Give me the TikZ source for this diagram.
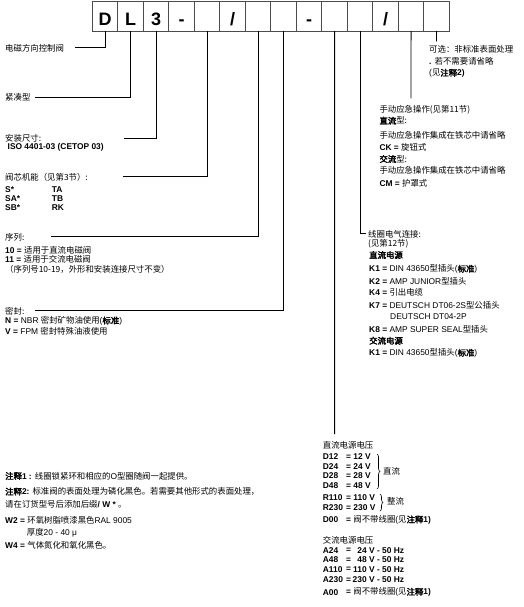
\documentclass[tikz,border=0pt]{standalone}
\usepackage{fontspec}
\setmainfont{Liberation Sans}
\newfontfamily\zhfont[AutoFakeBold=2.5]{Noto Sans CJK SC}
\usetikzlibrary{decorations.pathreplacing}
\newcommand{\zh}[1]{{\zhfont #1}}
\newcommand{\zb}[1]{{\zhfont\bfseries #1}}
\newcommand{\fs}{\fontsize{8.4}{10}\selectfont}
\tikzset{
  cell/.style={draw=black!70, line width=0.9pt, minimum width=25.5pt, minimum height=29.5pt, inner sep=0pt, outer sep=0pt},
  glyph/.style={anchor=base, inner sep=0pt, font=\fontsize{18}{18}\selectfont\bfseries},
  lbl/.style={anchor=west, inner sep=0pt, font=\fs},
  lead/.style={line width=0.9pt},
  brc/.style={decorate, decoration={brace, amplitude=3pt}, line width=0.6pt},
}

\begin{document}
\begin{tikzpicture}[x=1pt, y=-1pt]
  \useasboundingbox (0,0) rectangle (524,607);
  % code boxes
  \foreach \t [count=\i] in {D,L,3,-,{},/,{},{},-,{},{},/,{},{}} {
    \node[cell] (b\i) at ({92.3+25.5*(\i-0.5)},16.3) {};
    \node[glyph] (g\i) at ({92.3+25.5*(\i-0.5)},25.3) {\t};
  }

  % left column
  \node[lbl] (tDir) at (5,48.5) {\zh{电磁方向控制阀}};
  \node[lbl] (tCmp) at (5,97) {\zh{紧凑型}};
  \node[lbl] (tMnt) at (5,138.5) {\zh{安装尺寸:}};
  \node[lbl] (tIso) at (7.5,147.5) {\textbf{ISO 4401-03 (CETOP 03)}};
  \node[lbl] (tSpl) at (5,177.3) {\zh{阀芯机能（见第3节）:}};
  \foreach \a/\b/\y [count=\k] in {S*/TA/190, SA*/TB/198.7, SB*/RK/207.7} {
    \node[lbl] (sp\k) at (5,\y) {\textbf{\a}};
    \node[lbl] (sq\k) at (51.7,\y) {\textbf{\b}};
  }
  \node[lbl] (tSer) at (5,237.5) {\zh{序列:}};
  \node[lbl] (ser1) at (5,250) {\textbf{10 =} \zh{适用于直流电磁阀}};
  \node[lbl] (ser2) at (5,259.3) {\textbf{11 =} \zh{适用于交流电磁阀}};
  \node[lbl] (ser3) at (5,269.5) {\zh{（序列号10-19，外形和安装连接尺寸不变）}};
  \node[lbl] (tSeal) at (5,311.5) {\zh{密封:}};
  \node[lbl] (seal1) at (5,321) {\textbf{N =} NBR \zh{密封矿物油使用}(\zb{标准})};
  \node[lbl] (seal2) at (5,331) {\textbf{V =} FPM \zh{密封特殊油液使用}};

  \coordinate (eDir) at (75,47.7);
  \coordinate (eCmp) at (35,97);
  \coordinate (eMnt) at (124.3,138.3);
  \coordinate (eSpl) at (123.3,176.7);
  \coordinate (eSer) at (51,236.7);
  \coordinate (eSeal) at (35,310.5);
  \draw[lead] (b1.south) |- (eDir);
  \draw[lead] (b2.south) |- (eCmp);
  \draw[lead] (b3.south) |- (eMnt);
  \draw[lead] (b5.south) |- (eSpl);
  \draw[lead] (b7.south) |- (eSer);
  \draw[lead] (b8.south) |- (eSeal);

  % notes
  \node[lbl] (n1) at (5,476) {\zb{注释}\textbf{1 :} \zh{线圈锁紧环和相应的}O\zh{型圈随阀一起提供。}};
  \node[lbl] (n2) at (5,491.7) {\zb{注释}\textbf{2:} \zh{标准阀的表面处理为磷化黑色。若需要其他形式的表面处理，}};
  \node[lbl] (n3) at (5,504.3) {\zh{请在订货型号后添加后缀}\textbf{/ W *} \zh{。}};
  \node[lbl] (n4) at (5,520) {\textbf{W2 =} \zh{环氧树脂喷漆黑色}RAL 9005};
  \node[lbl] (n5) at (26.7,532.3) {\zh{厚度}20 - 40 μ};
  \node[lbl] (n6) at (5,545) {\textbf{W4 =} \zh{气体氮化和氧化黑色。}};

  % surface option
  \node[lbl] (tOpt) at (429,49.3) {\zh{可选：非标准表面处理}};
  \node[lbl] (tOpt2) at (429,61.7) {\textbf{.} \zh{若不需要请省略}};
  \node[lbl] (tOpt3) at (429,73.3) {(\zh{见}\zb{注释}\textbf{2)}};
  \coordinate (eOpt) at (436.5,41.5);
  \draw[lead] (b14.south) -- (eOpt);

  % manual override
  \node[lbl] (tMan) at (379.3,110) {\zh{手动应急操作(见第11节)}};
  \node[lbl] (man1) at (379.3,120.7) {\zb{直流}\zh{型:}};
  \node[lbl] (man2) at (379.3,135) {\zh{手动应急操作集成在铁芯中请省略}};
  \node[lbl] (man3) at (379.3,147.3) {\textbf{CK =} \zh{旋钮式}};
  \node[lbl] (man4) at (379.3,159) {\zb{交流}\zh{型:}};
  \node[lbl] (man5) at (379.3,170) {\zh{手动应急操作集成在铁芯中请省略}};
  \node[lbl] (man6) at (379.3,183.3) {\textbf{CM =} \zh{护罩式}};
  \coordinate (eMan) at (411,98.5);
  \draw[lead] (b13.south) -- (eMan);

  % coil connection
  \node[lbl] (tCon) at (368,234) {\zh{线圈电气连接:}};
  \node[lbl] (con0) at (368,243.3) {\zh{(见第12节)}};
  \node[lbl] (con1) at (369,255) {\zb{直流电源}};
  \node[lbl] (con2) at (369,269.3) {\textbf{K1 =} DIN 43650\zh{型插头}(\zb{标准})};
  \node[lbl] (con3) at (369,281) {\textbf{K2 =} AMP JUNIOR\zh{型插头}};
  \node[lbl] (con4) at (369,292.7) {\textbf{K4 =} \zh{引出电缆}};
  \node[lbl] (con5) at (369,305) {\textbf{K7 =} DEUTSCH DT06-2S\zh{型公插头}};
  \node[lbl] (con6) at (390,316.7) {DEUTSCH DT04-2P};
  \node[lbl] (con7) at (369,329) {\textbf{K8 =} AMP SUPER SEAL\zh{型插头}};
  \node[lbl] (con8) at (369,340.7) {\zb{交流电源}};
  \node[lbl] (con9) at (369,353.3) {\textbf{K1 =} DIN 43650\zh{型插头}(\zb{标准})};
  \coordinate (eCon) at (366,233.3);
  \draw[lead] (b11.south) |- (eCon);

  % voltages
  \node[lbl] (tDC) at (322.7,445) {\zh{直流电源电压}};
  \foreach \c/\v/\y in {D12/12 V/456.7, D24/24 V/466.7, D28/28 V/475.7, D48/48 V/485.7, R110/110 V/498, R230/230 V/508} {
    \node[lbl] (c\c) at (322.7,\y) {\textbf{\c}};
    \node[lbl] (v\c) at (346,\y) {\textbf{= \v}};
  }
  \node[lbl] (cD00) at (322.7,520) {\textbf{D00}};
  \node[lbl] (vD00) at (346,520) {\textbf{=} \zh{阀不带线圈}(\zh{见}\zb{注释}\textbf{1)}};
  \draw[brc] (377,454) -- (377,489);
  \node[lbl] (tDir2) at (383,471.7) {\zh{直流}};
  \draw[brc] (380,494) -- (380,511);
  \node[lbl] (tRec) at (387,501) {\zh{整流}};
  \coordinate (eVolt) at (334.6,434);
  \draw[lead] (b10.south) -- (eVolt);

  \node[lbl] (tAC) at (322.7,540) {\zh{交流电源电压}};
  \foreach \c/\v/\y in {A24/24 V - 50 Hz/550.3, A48/48 V - 50 Hz/560, A110/110 V - 50 Hz/569.7, A230/230 V - 50 Hz/580} {
    \node[lbl] (c\c) at (322.7,\y) {\textbf{\c}};
    \node[lbl] (q\c) at (346,\y) {\textbf{=}};
    \node[lbl, anchor=east] (v\c) at (404.3,\y) {\textbf{\v}};
  }
  \node[lbl] (cA00) at (322.7,592.3) {\textbf{A00}};
  \node[lbl] (vA00) at (346,592.3) {\textbf{=} \zh{阀不带线圈}(\zh{见}\zb{注释}\textbf{1)}};
\end{tikzpicture}
\end{document}
